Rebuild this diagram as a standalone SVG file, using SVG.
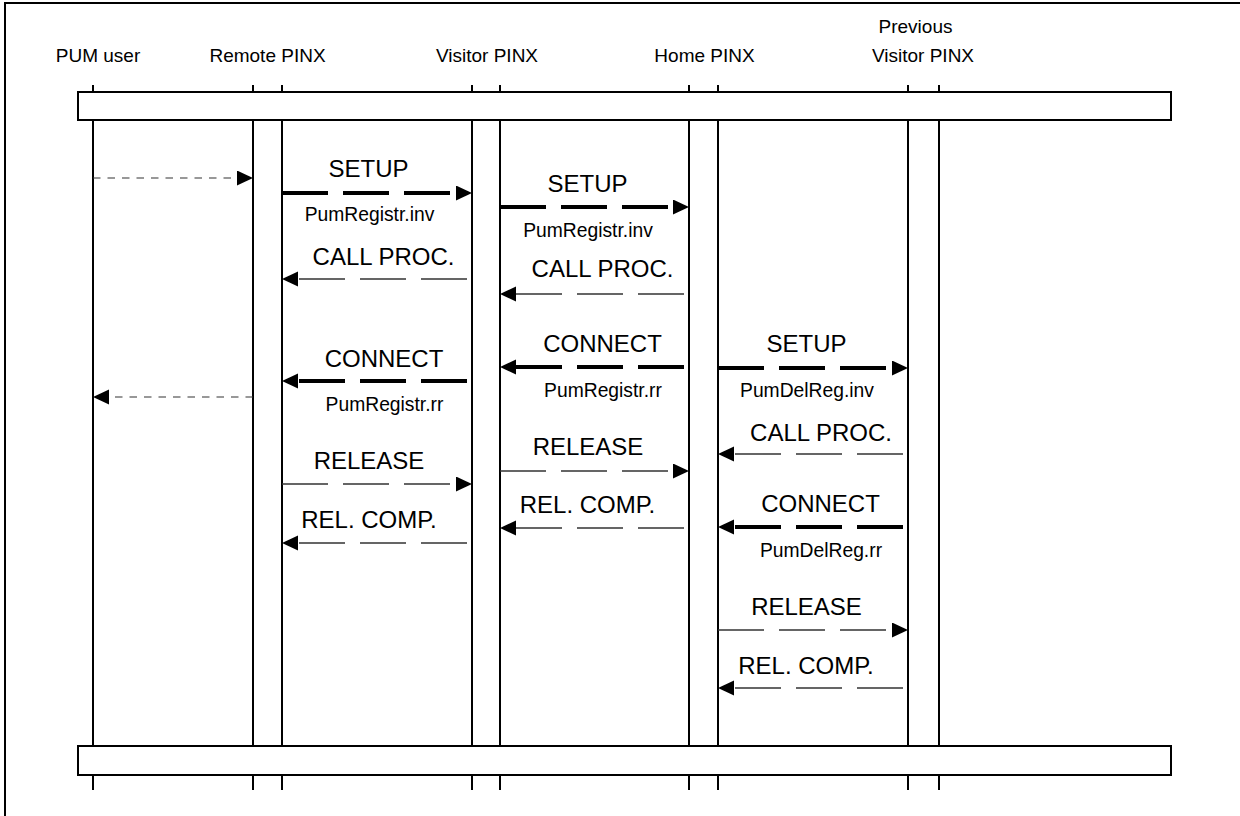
<svg xmlns="http://www.w3.org/2000/svg" width="1240" height="816" viewBox="0 0 1240 816">
<style>
text{font-family:"Liberation Sans",Arial,sans-serif;fill:#000;text-anchor:middle}
.hd{font-size:19px}
.msg{font-size:24px}
.sub{font-size:19.3px}
.life{stroke:#000;stroke-width:2;fill:none}
.box{fill:#fff;stroke:#000;stroke-width:2}
.thick{stroke:#000;stroke-width:4;stroke-dasharray:46 15;fill:none}
.thin{stroke:#333;stroke-width:1.3;stroke-dasharray:46 15;fill:none}
.user{stroke:#333;stroke-width:1.2;stroke-dasharray:7.5 7;fill:none}
</style>
<defs>
<marker id="ah" markerUnits="userSpaceOnUse" markerWidth="17" markerHeight="16" refX="0" refY="7.5" orient="auto">
<path d="M0,0 L16,7.5 L0,15 z" fill="#000"/>
</marker>
</defs>
<rect x="5" y="3" width="1300" height="900" fill="#fff" stroke="#000" stroke-width="2"/>
<g id="lifelines">
<line class="life" x1="93" y1="85" x2="93" y2="790"/>
<line class="life" x1="253" y1="85" x2="253" y2="790"/>
<line class="life" x1="282" y1="85" x2="282" y2="790"/>
<line class="life" x1="472" y1="85" x2="472" y2="790"/>
<line class="life" x1="500" y1="85" x2="500" y2="790"/>
<line class="life" x1="689" y1="85" x2="689" y2="790"/>
<line class="life" x1="718" y1="85" x2="718" y2="790"/>
<line class="life" x1="908" y1="85" x2="908" y2="790"/>
<line class="life" x1="939" y1="85" x2="939" y2="790"/>
</g>
<g id="top-bar"><rect class="box" x="78" y="92" width="1093" height="28"/></g>
<g id="bottom-bar"><rect class="box" x="78" y="746" width="1093" height="29"/></g>
<g id="pum-user"><text class="hd" x="98" y="62">PUM user</text></g>
<g id="remote-pinx"><text class="hd" x="267.5" y="62">Remote PINX</text></g>
<g id="visitor-pinx"><text class="hd" x="487" y="62">Visitor PINX</text></g>
<g id="home-pinx"><text class="hd" x="704.5" y="62">Home PINX</text></g>
<g id="previous-visitor-pinx"><text class="hd" x="915.5" y="33">Previous</text><text class="hd" x="923" y="62">Visitor PINX</text></g>
<g id="connectors">
<line class="user" x1="93" y1="178" x2="237" y2="178" marker-end="url(#ah)"/>
<line class="user" x1="253" y1="397" x2="109" y2="397" marker-end="url(#ah)"/>
<line class="thick" x1="282" y1="193" x2="456" y2="193" marker-end="url(#ah)"/>
<line class="thin" x1="467" y1="279" x2="298" y2="279" marker-end="url(#ah)"/>
<line class="thick" x1="467" y1="381" x2="298" y2="381" marker-end="url(#ah)"/>
<line class="thin" x1="282" y1="484" x2="456" y2="484" marker-end="url(#ah)"/>
<line class="thin" x1="467" y1="543" x2="298" y2="543" marker-end="url(#ah)"/>
<line class="thick" x1="500" y1="207" x2="673" y2="207" marker-end="url(#ah)"/>
<line class="thin" x1="684" y1="294" x2="516" y2="294" marker-end="url(#ah)"/>
<line class="thick" x1="684" y1="367" x2="516" y2="367" marker-end="url(#ah)"/>
<line class="thin" x1="500" y1="471" x2="673" y2="471" marker-end="url(#ah)"/>
<line class="thin" x1="684" y1="528" x2="516" y2="528" marker-end="url(#ah)"/>
<line class="thick" x1="718" y1="368" x2="892" y2="368" marker-end="url(#ah)"/>
<line class="thin" x1="903" y1="454" x2="734" y2="454" marker-end="url(#ah)"/>
<line class="thick" x1="903" y1="527" x2="734" y2="527" marker-end="url(#ah)"/>
<line class="thin" x1="718" y1="630" x2="892" y2="630" marker-end="url(#ah)"/>
<line class="thin" x1="903" y1="688" x2="734" y2="688" marker-end="url(#ah)"/>
</g>
<g id="labels">
<text class="msg" x="368.5" y="177">SETUP</text>
<text class="sub" x="369.5" y="221">PumRegistr.inv</text>
<text class="msg" x="383.5" y="265">CALL PROC.</text>
<text class="msg" x="384" y="367">CONNECT</text>
<text class="sub" x="384.5" y="411">PumRegistr.rr</text>
<text class="msg" x="369" y="469">RELEASE</text>
<text class="msg" x="369" y="528">REL. COMP.</text>
<text class="msg" x="587.5" y="192">SETUP</text>
<text class="sub" x="588" y="237">PumRegistr.inv</text>
<text class="msg" x="602.5" y="277">CALL PROC.</text>
<text class="msg" x="602.5" y="352">CONNECT</text>
<text class="sub" x="603" y="397">PumRegistr.rr</text>
<text class="msg" x="588" y="455">RELEASE</text>
<text class="msg" x="587.5" y="513">REL. COMP.</text>
<text class="msg" x="806.5" y="352">SETUP</text>
<text class="sub" x="807" y="397">PumDelReg.inv</text>
<text class="msg" x="821" y="441">CALL PROC.</text>
<text class="msg" x="820.5" y="512">CONNECT</text>
<text class="sub" x="821" y="557">PumDelReg.rr</text>
<text class="msg" x="806.5" y="615">RELEASE</text>
<text class="msg" x="806" y="674">REL. COMP.</text>
</g>
</svg>
